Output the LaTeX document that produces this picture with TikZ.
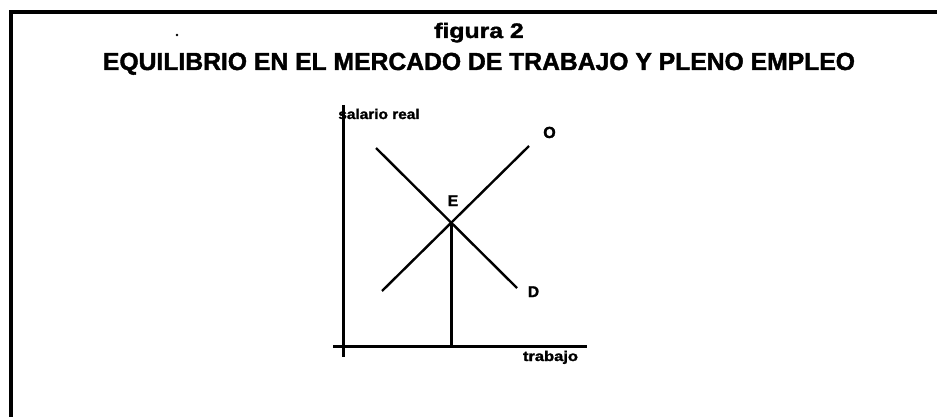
\documentclass[tikz,border=0pt]{standalone}
\usepackage{graphicx}
\usepackage{fontspec}
\setmainfont{Liberation Sans}[BoldFeatures={FakeBold=1.6}]
\begin{document}
\begin{tikzpicture}[x=1pt,y=-1pt,
  lbl/.style={inner sep=0pt, anchor=base},
  axisline/.style={line width=3pt},
  curveline/.style={line width=2.4pt},
  frameline/.style={line width=3.5pt}]
\useasboundingbox (0,0) rectangle (937,417);
% frame (top and left sides only)
\coordinate (fTR) at (937,12);
\coordinate (fTL) at (11,12);
\coordinate (fBL) at (11,417);
\draw[frameline] (fTR) -- (fTL) -- (fBL);
% stray dot
\fill (177,35) circle (1.3);
% titles
\node[lbl, font=\bfseries\fontsize{21}{25}\selectfont] (fig) at (479,38) {\scalebox{1.18}[1]{figura 2}};
\node[lbl, font=\bfseries\fontsize{24.7}{30}\selectfont] (title) at (479,70) {EQUILIBRIO EN EL MERCADO DE TRABAJO Y PLENO EMPLEO};
% axes
\coordinate (ytop) at (343,105);
\coordinate (ybot) at (343,357);
\coordinate (xleft) at (333,346);
\coordinate (xright) at (587,346);
\draw[axisline] (ytop) -- (ybot);
\draw[axisline] (xleft) -- (xright);
\node[lbl, font=\bfseries\fontsize{14}{16}\selectfont] (ylab) at (379,119) {\scalebox{1.1}[1]{salario real}};
\node[lbl, font=\bfseries\fontsize{14}{16}\selectfont] (xlab) at (550.5,361) {\scalebox{1.18}[1]{trabajo}};
% curves
\coordinate (Ds) at (376,148);
\coordinate (De) at (517,288);
\coordinate (Os) at (382,291);
\coordinate (Oe) at (529,146);
\coordinate (E) at (451,222.5);
\coordinate (Efoot) at (451,346);
\draw[curveline] (Ds) -- (De);
\draw[curveline] (Os) -- (Oe);
\draw[axisline] (E) -- (Efoot);
% letters
\node[lbl, font=\bfseries\fontsize{16}{18}\selectfont] (lO) at (549.5,138) {O};
\node[lbl, font=\bfseries\fontsize{15.5}{18}\selectfont] (lE) at (453,206) {E};
\node[lbl, font=\bfseries\fontsize{15.5}{18}\selectfont] (lD) at (533.5,297) {D};
\end{tikzpicture}
\end{document}
